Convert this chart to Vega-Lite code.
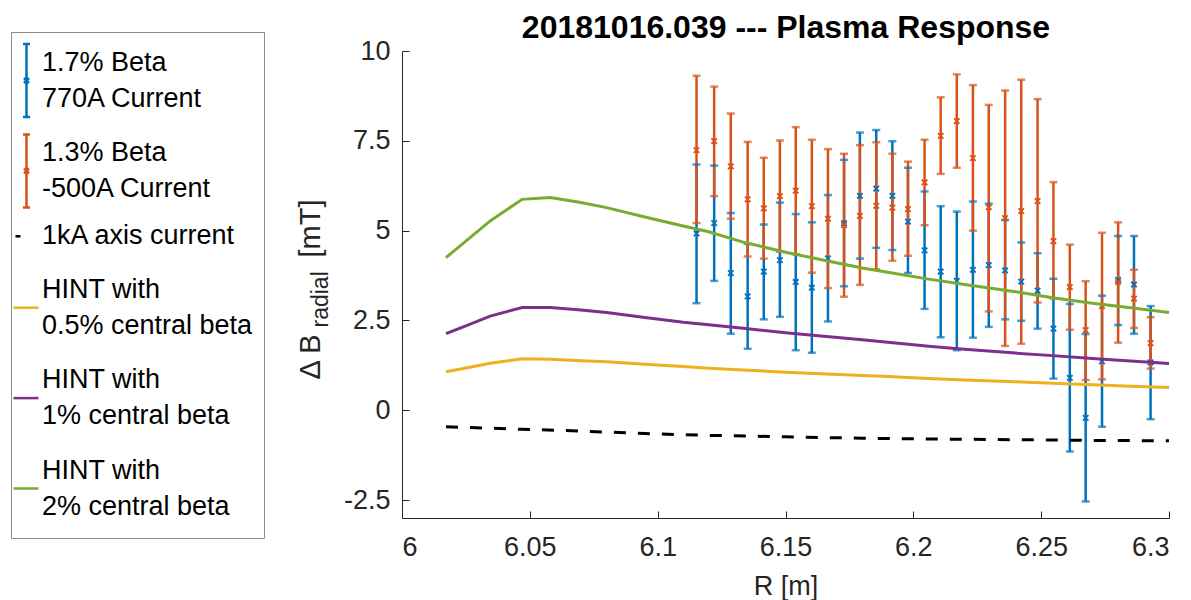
{
  "$schema": "https://vega.github.io/schema/vega-lite/v6.json",
  "autosize": "none",
  "padding": {"left": 402, "top": 51, "right": 22, "bottom": 82},
  "width": 767,
  "height": 467,
  "background": "white",
  "config": {
    "view": {"stroke": null},
    "font": "Liberation Sans",
    "axis": {
      "grid": false,
      "domainColor": "#262626",
      "tickColor": "#262626",
      "labelColor": "#262626",
      "titleColor": "#262626",
      "labelFont": "Liberation Sans",
      "titleFont": "Liberation Sans",
      "labelFontSize": 27,
      "titleFontSize": 27,
      "titleFontWeight": "normal",
      "tickSize": -7
    }
  },
  "datasets": {
    "bars": [
      {"R": 6.1152, "series": "1.7% Beta|770A Current", "val": 4.92, "lo": 2.98, "hi": 6.84},
      {"R": 6.1221, "series": "1.7% Beta|770A Current", "val": 5.21, "lo": 3.60, "hi": 6.81},
      {"R": 6.1286, "series": "1.7% Beta|770A Current", "val": 3.82, "lo": 2.13, "hi": 5.49},
      {"R": 6.1352, "series": "1.7% Beta|770A Current", "val": 3.17, "lo": 1.71, "hi": 4.63},
      {"R": 6.1415, "series": "1.7% Beta|770A Current", "val": 3.86, "lo": 2.53, "hi": 5.17},
      {"R": 6.1478, "series": "1.7% Beta|770A Current", "val": 4.18, "lo": 2.60, "hi": 5.78},
      {"R": 6.1540, "series": "1.7% Beta|770A Current", "val": 3.57, "lo": 1.67, "hi": 5.46},
      {"R": 6.1603, "series": "1.7% Beta|770A Current", "val": 3.41, "lo": 1.60, "hi": 5.23},
      {"R": 6.1666, "series": "1.7% Beta|770A Current", "val": 4.23, "lo": 2.47, "hi": 5.99},
      {"R": 6.1729, "series": "1.7% Beta|770A Current", "val": 5.21, "lo": 3.45, "hi": 6.97},
      {"R": 6.1791, "series": "1.7% Beta|770A Current", "val": 5.97, "lo": 4.22, "hi": 7.73},
      {"R": 6.1855, "series": "1.7% Beta|770A Current", "val": 6.17, "lo": 4.52, "hi": 7.80},
      {"R": 6.1918, "series": "1.7% Beta|770A Current", "val": 5.97, "lo": 4.46, "hi": 7.49},
      {"R": 6.1979, "series": "1.7% Beta|770A Current", "val": 5.25, "lo": 3.82, "hi": 6.75},
      {"R": 6.2044, "series": "1.7% Beta|770A Current", "val": 4.45, "lo": 2.82, "hi": 6.09},
      {"R": 6.2107, "series": "1.7% Beta|770A Current", "val": 3.86, "lo": 2.03, "hi": 5.68},
      {"R": 6.2170, "series": "1.7% Beta|770A Current", "val": 3.60, "lo": 1.67, "hi": 5.53},
      {"R": 6.2233, "series": "1.7% Beta|770A Current", "val": 3.91, "lo": 2.02, "hi": 5.81},
      {"R": 6.2295, "series": "1.7% Beta|770A Current", "val": 4.04, "lo": 2.32, "hi": 5.75},
      {"R": 6.2359, "series": "1.7% Beta|770A Current", "val": 3.89, "lo": 2.53, "hi": 5.30},
      {"R": 6.2422, "series": "1.7% Beta|770A Current", "val": 3.58, "lo": 2.49, "hi": 4.67},
      {"R": 6.2486, "series": "1.7% Beta|770A Current", "val": 3.33, "lo": 2.27, "hi": 4.37},
      {"R": 6.2548, "series": "1.7% Beta|770A Current", "val": 2.27, "lo": 0.88, "hi": 3.66},
      {"R": 6.2612, "series": "1.7% Beta|770A Current", "val": 0.90, "lo": -1.15, "hi": 2.96},
      {"R": 6.2674, "series": "1.7% Beta|770A Current", "val": -0.21, "lo": -2.54, "hi": 2.12},
      {"R": 6.2738, "series": "1.7% Beta|770A Current", "val": 1.36, "lo": -0.46, "hi": 3.19},
      {"R": 6.2801, "series": "1.7% Beta|770A Current", "val": 3.63, "lo": 2.37, "hi": 4.85},
      {"R": 6.2863, "series": "1.7% Beta|770A Current", "val": 3.50, "lo": 2.13, "hi": 4.85},
      {"R": 6.2928, "series": "1.7% Beta|770A Current", "val": 1.33, "lo": -0.25, "hi": 2.90},
      {"R": 6.1152, "series": "1.3% Beta|-500A Current", "val": 7.24, "lo": 5.21, "hi": 9.31},
      {"R": 6.1221, "series": "1.3% Beta|-500A Current", "val": 7.49, "lo": 5.96, "hi": 9.01},
      {"R": 6.1286, "series": "1.3% Beta|-500A Current", "val": 6.79, "lo": 5.33, "hi": 8.26},
      {"R": 6.1352, "series": "1.3% Beta|-500A Current", "val": 5.87, "lo": 4.28, "hi": 7.47},
      {"R": 6.1415, "series": "1.3% Beta|-500A Current", "val": 5.62, "lo": 4.22, "hi": 7.03},
      {"R": 6.1478, "series": "1.3% Beta|-500A Current", "val": 5.96, "lo": 4.41, "hi": 7.51},
      {"R": 6.1540, "series": "1.3% Beta|-500A Current", "val": 6.11, "lo": 4.34, "hi": 7.88},
      {"R": 6.1603, "series": "1.3% Beta|-500A Current", "val": 5.68, "lo": 3.83, "hi": 7.53},
      {"R": 6.1666, "series": "1.3% Beta|-500A Current", "val": 5.33, "lo": 3.40, "hi": 7.27},
      {"R": 6.1729, "series": "1.3% Beta|-500A Current", "val": 5.15, "lo": 3.16, "hi": 7.14},
      {"R": 6.1791, "series": "1.3% Beta|-500A Current", "val": 5.41, "lo": 3.49, "hi": 7.38},
      {"R": 6.1855, "series": "1.3% Beta|-500A Current", "val": 5.69, "lo": 3.92, "hi": 7.46},
      {"R": 6.1918, "series": "1.3% Beta|-500A Current", "val": 5.64, "lo": 4.16, "hi": 7.14},
      {"R": 6.1979, "series": "1.3% Beta|-500A Current", "val": 5.60, "lo": 4.30, "hi": 6.92},
      {"R": 6.2044, "series": "1.3% Beta|-500A Current", "val": 6.34, "lo": 5.15, "hi": 7.53},
      {"R": 6.2107, "series": "1.3% Beta|-500A Current", "val": 7.64, "lo": 6.58, "hi": 8.71},
      {"R": 6.2170, "series": "1.3% Beta|-500A Current", "val": 8.05, "lo": 6.75, "hi": 9.35},
      {"R": 6.2233, "series": "1.3% Beta|-500A Current", "val": 7.02, "lo": 5.00, "hi": 9.05},
      {"R": 6.2295, "series": "1.3% Beta|-500A Current", "val": 5.65, "lo": 2.75, "hi": 8.50},
      {"R": 6.2359, "series": "1.3% Beta|-500A Current", "val": 5.35, "lo": 1.79, "hi": 8.90},
      {"R": 6.2422, "series": "1.3% Beta|-500A Current", "val": 5.54, "lo": 1.85, "hi": 9.20},
      {"R": 6.2486, "series": "1.3% Beta|-500A Current", "val": 5.82, "lo": 3.00, "hi": 8.66},
      {"R": 6.2548, "series": "1.3% Beta|-500A Current", "val": 4.71, "lo": 3.11, "hi": 6.35},
      {"R": 6.2612, "series": "1.3% Beta|-500A Current", "val": 3.43, "lo": 2.24, "hi": 4.61},
      {"R": 6.2674, "series": "1.3% Beta|-500A Current", "val": 2.23, "lo": 0.84, "hi": 3.59},
      {"R": 6.2738, "series": "1.3% Beta|-500A Current", "val": 2.90, "lo": 0.86, "hi": 4.94},
      {"R": 6.2801, "series": "1.3% Beta|-500A Current", "val": 3.57, "lo": 1.88, "hi": 5.23},
      {"R": 6.2863, "series": "1.3% Beta|-500A Current", "val": 3.11, "lo": 2.29, "hi": 3.91},
      {"R": 6.2928, "series": "1.3% Beta|-500A Current", "val": 1.87, "lo": 1.16, "hi": 2.59}
    ],
    "lines": [
      {"R": 6.0172, "series": "1kA axis current", "val": -0.46},
      {"R": 6.0345, "series": "1kA axis current", "val": -0.50},
      {"R": 6.0470, "series": "1kA axis current", "val": -0.53},
      {"R": 6.0700, "series": "1kA axis current", "val": -0.58},
      {"R": 6.0950, "series": "1kA axis current", "val": -0.65},
      {"R": 6.1200, "series": "1kA axis current", "val": -0.70},
      {"R": 6.1500, "series": "1kA axis current", "val": -0.74},
      {"R": 6.1800, "series": "1kA axis current", "val": -0.78},
      {"R": 6.2060, "series": "1kA axis current", "val": -0.80},
      {"R": 6.2400, "series": "1kA axis current", "val": -0.82},
      {"R": 6.2700, "series": "1kA axis current", "val": -0.84},
      {"R": 6.3000, "series": "1kA axis current", "val": -0.85},
      {"R": 6.0172, "series": "HINT with|0.5% central beta", "val": 1.07},
      {"R": 6.0225, "series": "HINT with|0.5% central beta", "val": 1.14},
      {"R": 6.0345, "series": "HINT with|0.5% central beta", "val": 1.31},
      {"R": 6.0470, "series": "HINT with|0.5% central beta", "val": 1.43},
      {"R": 6.0580, "series": "HINT with|0.5% central beta", "val": 1.42},
      {"R": 6.0700, "series": "HINT with|0.5% central beta", "val": 1.38},
      {"R": 6.0800, "series": "HINT with|0.5% central beta", "val": 1.35},
      {"R": 6.0950, "series": "HINT with|0.5% central beta", "val": 1.28},
      {"R": 6.1100, "series": "HINT with|0.5% central beta", "val": 1.22},
      {"R": 6.1200, "series": "HINT with|0.5% central beta", "val": 1.17},
      {"R": 6.1334, "series": "HINT with|0.5% central beta", "val": 1.12},
      {"R": 6.1500, "series": "HINT with|0.5% central beta", "val": 1.06},
      {"R": 6.1660, "series": "HINT with|0.5% central beta", "val": 1.01},
      {"R": 6.1800, "series": "HINT with|0.5% central beta", "val": 0.97},
      {"R": 6.1900, "series": "HINT with|0.5% central beta", "val": 0.94},
      {"R": 6.2060, "series": "HINT with|0.5% central beta", "val": 0.88},
      {"R": 6.2200, "series": "HINT with|0.5% central beta", "val": 0.84},
      {"R": 6.2400, "series": "HINT with|0.5% central beta", "val": 0.79},
      {"R": 6.2545, "series": "HINT with|0.5% central beta", "val": 0.75},
      {"R": 6.2700, "series": "HINT with|0.5% central beta", "val": 0.71},
      {"R": 6.2850, "series": "HINT with|0.5% central beta", "val": 0.67},
      {"R": 6.3000, "series": "HINT with|0.5% central beta", "val": 0.63},
      {"R": 6.0172, "series": "HINT with|1% central beta", "val": 2.13},
      {"R": 6.0225, "series": "HINT with|1% central beta", "val": 2.28},
      {"R": 6.0345, "series": "HINT with|1% central beta", "val": 2.62},
      {"R": 6.0470, "series": "HINT with|1% central beta", "val": 2.86},
      {"R": 6.0580, "series": "HINT with|1% central beta", "val": 2.86},
      {"R": 6.0700, "series": "HINT with|1% central beta", "val": 2.79},
      {"R": 6.0800, "series": "HINT with|1% central beta", "val": 2.72},
      {"R": 6.0950, "series": "HINT with|1% central beta", "val": 2.58},
      {"R": 6.1100, "series": "HINT with|1% central beta", "val": 2.45},
      {"R": 6.1200, "series": "HINT with|1% central beta", "val": 2.38},
      {"R": 6.1334, "series": "HINT with|1% central beta", "val": 2.28},
      {"R": 6.1500, "series": "HINT with|1% central beta", "val": 2.16},
      {"R": 6.1660, "series": "HINT with|1% central beta", "val": 2.05},
      {"R": 6.1800, "series": "HINT with|1% central beta", "val": 1.96},
      {"R": 6.1900, "series": "HINT with|1% central beta", "val": 1.89},
      {"R": 6.2060, "series": "HINT with|1% central beta", "val": 1.78},
      {"R": 6.2200, "series": "HINT with|1% central beta", "val": 1.70},
      {"R": 6.2400, "series": "HINT with|1% central beta", "val": 1.59},
      {"R": 6.2545, "series": "HINT with|1% central beta", "val": 1.52},
      {"R": 6.2700, "series": "HINT with|1% central beta", "val": 1.44},
      {"R": 6.2850, "series": "HINT with|1% central beta", "val": 1.37},
      {"R": 6.3000, "series": "HINT with|1% central beta", "val": 1.30},
      {"R": 6.0172, "series": "HINT with|2% central beta", "val": 4.25},
      {"R": 6.0225, "series": "HINT with|2% central beta", "val": 4.56},
      {"R": 6.0345, "series": "HINT with|2% central beta", "val": 5.27},
      {"R": 6.0470, "series": "HINT with|2% central beta", "val": 5.87},
      {"R": 6.0580, "series": "HINT with|2% central beta", "val": 5.92},
      {"R": 6.0700, "series": "HINT with|2% central beta", "val": 5.78},
      {"R": 6.0800, "series": "HINT with|2% central beta", "val": 5.64},
      {"R": 6.0950, "series": "HINT with|2% central beta", "val": 5.38},
      {"R": 6.1100, "series": "HINT with|2% central beta", "val": 5.13},
      {"R": 6.1200, "series": "HINT with|2% central beta", "val": 4.97},
      {"R": 6.1334, "series": "HINT with|2% central beta", "val": 4.68},
      {"R": 6.1500, "series": "HINT with|2% central beta", "val": 4.40},
      {"R": 6.1660, "series": "HINT with|2% central beta", "val": 4.16},
      {"R": 6.1800, "series": "HINT with|2% central beta", "val": 3.96},
      {"R": 6.1900, "series": "HINT with|2% central beta", "val": 3.84},
      {"R": 6.2060, "series": "HINT with|2% central beta", "val": 3.65},
      {"R": 6.2200, "series": "HINT with|2% central beta", "val": 3.50},
      {"R": 6.2400, "series": "HINT with|2% central beta", "val": 3.30},
      {"R": 6.2545, "series": "HINT with|2% central beta", "val": 3.13},
      {"R": 6.2700, "series": "HINT with|2% central beta", "val": 2.98},
      {"R": 6.2850, "series": "HINT with|2% central beta", "val": 2.85},
      {"R": 6.3000, "series": "HINT with|2% central beta", "val": 2.72}
    ]
  },
  "resolve": {"axis": {"y": "independent", "x": "independent"}},
  "layer": [
    {
      "data": {"name": "bars"},
      "mark": {"type": "rule", "strokeWidth": 2.5},
      "encoding": {
        "x": {
          "field": "R", "type": "quantitative",
          "scale": {"domain": [6, 6.3], "nice": false, "zero": false},
          "axis": {
            "orient": "bottom",
            "values": [6, 6.05, 6.1, 6.15, 6.2, 6.25, 6.3],
            "labelExpr": "toString(datum.value)",
            "labelPadding": 23,
            "title": "R [m]",
            "titleY": 76,
            "titleBaseline": "alphabetic"
          }
        },
        "y": {
          "field": "lo", "type": "quantitative",
          "scale": {"domain": [-3, 10], "nice": false, "zero": false},
          "axis": {
            "orient": "left",
            "values": [-2.5, 0, 2.5, 5, 7.5, 10],
            "labelExpr": "toString(datum.value)",
            "labelPadding": 19,
            "title": "Δ B",
            "titleFontSize": 29,
            "titleAngle": 270,
            "titleAlign": "left",
            "titleBaseline": "alphabetic",
            "titleX": -83,
            "titleY": 328
          }
        },
        "y2": {"field": "hi"},
        "color": {
          "field": "series", "type": "nominal",
          "scale": {
            "domain": ["1.7% Beta|770A Current", "1.3% Beta|-500A Current", "1kA axis current", "HINT with|0.5% central beta", "HINT with|1% central beta", "HINT with|2% central beta"],
            "range": ["#0072BD", "#D95319", "#000000", "#EDB120", "#7E2F8E", "#77AC30"]
          },
          "legend": {
            "orient": "none",
            "legendX": -391,
            "legendY": -19,
            "title": null,
            "padding": 11,
            "strokeColor": "#8c8c8c",
            "fillColor": "#ffffff",
            "labelFont": "Liberation Sans",
            "labelFontSize": 27,
            "labelColor": "#000000",
            "labelLimit": 400,
            "symbolOffset": -9,
            "labelOffset": 2,
            "rowPadding": -10.6,
            "symbolSize": 100,
            "symbolStrokeWidth": 2.5,
            "labelExpr": "split(datum.label, '|')",
            "encode": {
              "symbols": {
                "update": {
                  "shape": {"signal": "indexof(datum.value, 'Beta|') >= 0 ? 'M0,-2.5L0,12.1M-0.7,-2.5L0.7,-2.5M-0.7,12.1L0.7,12.1M-0.5,4.3L0.5,5.3M-0.5,5.3L0.5,4.3M0,-5.95' : datum.value == '1kA axis current' ? 'M-2.2,1.2L-1.2,1.2M0,-4.55M0,4' : 'M-2.6,4.8L2.4,4.8M0,-6.7M0,11.4'"},
                  "fill": {"value": "transparent"},
                  "stroke": {"scale": "color", "field": "value"},
                  "strokeWidth": {"value": 2.5}
                }
              },
              "labels": {"update": {"lineHeight": {"value": 36}, "dy": {"value": 6}}}
            }
          }
        }
      }
    },
    {
      "data": {"name": "bars"},
      "mark": {"type": "tick", "orient": "horizontal", "size": 8, "thickness": 2.5},
      "encoding": {
        "x": {"field": "R", "type": "quantitative", "axis": null},
        "y": {
          "field": "lo", "type": "quantitative",
          "axis": {
            "orient": "left", "domain": false, "ticks": false, "labels": false,
            "title": "radial", "titleFontSize": 23, "titleAngle": 270,
            "titleAlign": "left", "titleBaseline": "alphabetic",
            "titleX": -75, "titleY": 276
          }
        },
        "color": {"field": "series", "type": "nominal"}
      }
    },
    {
      "data": {"name": "bars"},
      "mark": {"type": "tick", "orient": "horizontal", "size": 8, "thickness": 2.5},
      "encoding": {
        "x": {"field": "R", "type": "quantitative", "axis": null},
        "y": {
          "field": "hi", "type": "quantitative",
          "axis": {
            "orient": "left", "domain": false, "ticks": false, "labels": false,
            "title": "[mT]", "titleFontSize": 29, "titleAngle": 270,
            "titleAlign": "left", "titleBaseline": "alphabetic",
            "titleX": -83, "titleY": 206
          }
        },
        "color": {"field": "series", "type": "nominal"}
      }
    },
    {
      "data": {"name": "bars"},
      "mark": {"type": "point", "shape": "M-1,-1L1,1M-1,1L1,-1", "size": 30, "filled": false, "strokeWidth": 1.8, "opacity": 1},
      "encoding": {
        "x": {
          "field": "R", "type": "quantitative",
          "axis": {
            "orient": "top", "domain": false, "ticks": false, "labels": false,
            "title": "20181016.039 --- Plasma Response",
            "titleFont": "Liberation Sans",
            "titleFontSize": 32, "titleFontWeight": "bold", "titleColor": "#000000",
            "titleAlign": "center", "titleBaseline": "alphabetic",
            "titleX": 383.5, "titleY": -14
          }
        },
        "y": {"field": "val", "type": "quantitative", "axis": null},
        "color": {"field": "series", "type": "nominal"}
      }
    },
    {
      "data": {"name": "lines"},
      "transform": [{"filter": "datum.series == '1kA axis current'"}],
      "mark": {"type": "line", "strokeWidth": 3, "strokeDash": [12, 12]},
      "encoding": {
        "x": {"field": "R", "type": "quantitative", "axis": null},
        "y": {"field": "val", "type": "quantitative", "axis": null},
        "color": {"field": "series", "type": "nominal"}
      }
    },
    {
      "data": {"name": "lines"},
      "transform": [{"filter": "datum.series != '1kA axis current'"}],
      "mark": {"type": "line", "strokeWidth": 3},
      "encoding": {
        "x": {"field": "R", "type": "quantitative", "axis": null},
        "y": {"field": "val", "type": "quantitative", "axis": null},
        "color": {"field": "series", "type": "nominal"}
      }
    }
  ]
}
